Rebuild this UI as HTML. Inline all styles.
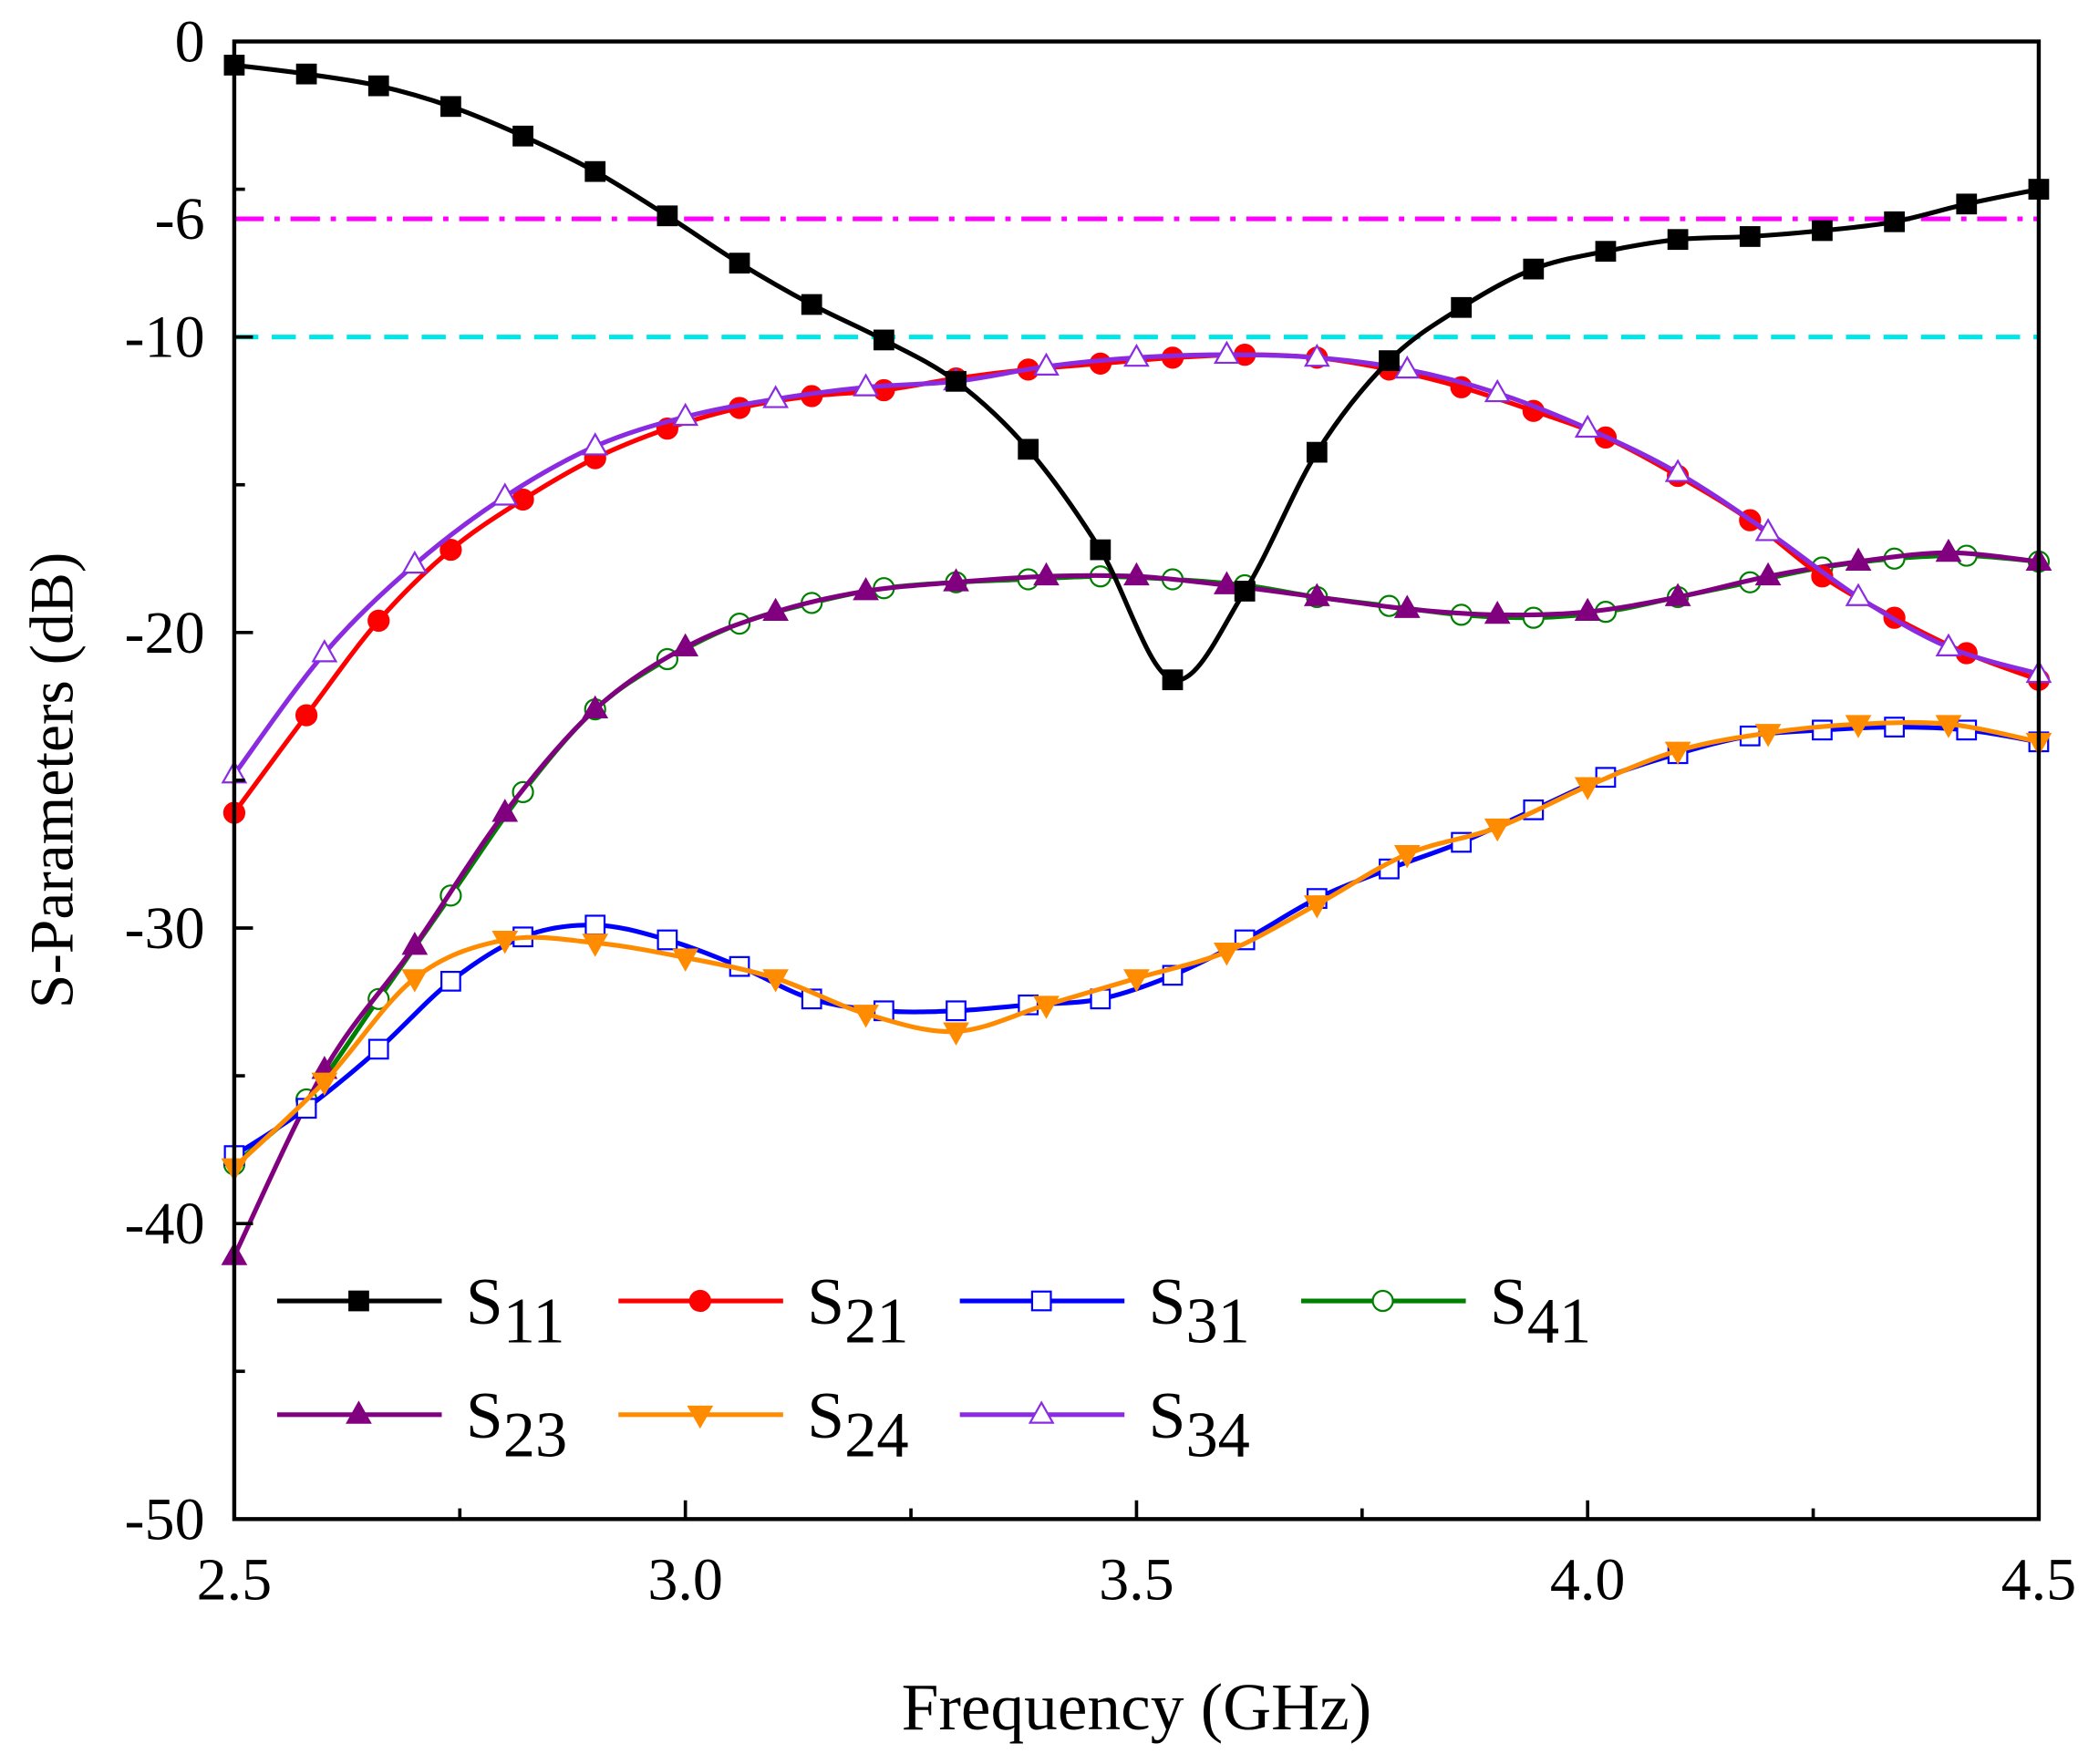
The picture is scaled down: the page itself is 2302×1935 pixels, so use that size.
<!DOCTYPE html>
<html><head><meta charset="utf-8"><style>
html,body{margin:0;padding:0;background:#fff;}
svg{display:block;font-family:"Liberation Serif",serif;}
</style></head><body>
<svg id="chart" width="2302" height="1935" viewBox="0 0 1568 1318" preserveAspectRatio="none" xmlns="http://www.w3.org/2000/svg">
<g id="grid"></g>
<g id="series"></g>
<rect x="175" y="31" width="1348" height="1104" fill="none" stroke="#000" stroke-width="3"/>
<g id="axes"></g>
<text transform="translate(54,583) rotate(-90)" text-anchor="middle" font-size="46">S-Parameters (dB)</text>
<text x="849" y="1292" text-anchor="middle" font-size="50">Frequency (GHz)</text>
<g id="legend"></g>
</svg>
<script>
const f8 = [2.5,2.58,2.66,2.74,2.82,2.9,2.98,3.06,3.14,3.22,3.3,3.38,3.46,3.54,3.62,3.7,3.78,3.86,3.94,4.02,4.1,4.18,4.26,4.34,4.42,4.5];
const f10 = [2.5,2.6,2.7,2.8,2.9,3.0,3.1,3.2,3.3,3.4,3.5,3.6,3.7,3.8,3.9,4.0,4.1,4.2,4.3,4.4,4.5];
const s11 = [-0.8,-1.1,-1.5,-2.2,-3.2,-4.4,-5.9,-7.5,-8.9,-10.1,-11.5,-13.8,-17.2,-21.6,-18.6,-13.9,-10.8,-9.0,-7.7,-7.1,-6.7,-6.6,-6.4,-6.1,-5.5,-5.0];
const s21 = [-26.1,-22.8,-19.6,-17.2,-15.5,-14.1,-13.1,-12.4,-12.0,-11.8,-11.4,-11.1,-10.9,-10.7,-10.6,-10.7,-11.1,-11.7,-12.5,-13.4,-14.7,-16.2,-18.1,-19.5,-20.7,-21.6];
const s31 = [-37.7,-36.1,-34.1,-31.8,-30.3,-29.9,-30.4,-31.3,-32.4,-32.8,-32.8,-32.6,-32.4,-31.6,-30.4,-29.0,-28.0,-27.1,-26.0,-24.9,-24.1,-23.5,-23.3,-23.2,-23.3,-23.7];
const s41 = [-38.0,-35.8,-32.4,-28.9,-25.4,-22.6,-20.9,-19.7,-19.0,-18.5,-18.3,-18.2,-18.1,-18.2,-18.4,-18.8,-19.1,-19.4,-19.5,-19.3,-18.8,-18.3,-17.8,-17.5,-17.4,-17.6];
const s23 = [-41.1,-34.8,-30.6,-26.1,-22.6,-20.5,-19.3,-18.6,-18.3,-18.1,-18.1,-18.4,-18.8,-19.2,-19.4,-19.3,-18.8,-18.1,-17.6,-17.3,-17.6];
const s24 = [-38.1,-35.2,-31.7,-30.4,-30.5,-31.0,-31.7,-32.9,-33.5,-32.6,-31.7,-30.8,-29.2,-27.5,-26.6,-25.2,-24.0,-23.4,-23.1,-23.1,-23.7];
const s34 = [-24.8,-20.7,-17.7,-15.4,-13.7,-12.7,-12.1,-11.7,-11.5,-11.0,-10.7,-10.6,-10.7,-11.1,-11.9,-13.1,-14.6,-16.6,-18.8,-20.5,-21.4];
const xTicks = [2.5,3.0,3.5,4.0,4.5];
const yTicks = [0,-6,-10,-20,-30,-40,-50];
const refLevels = [-6,-10];

const NS="http://www.w3.org/2000/svg";
const X0=175,X1=1523,Y0=31,Y1=1135;
const xs=f=>X0+(f-2.5)/2*(X1-X0);
const ys=v=>Y0+(-v)/50*(Y1-Y0);
function mk(tag,attrs,parent){const e=document.createElementNS(NS,tag);for(const k in attrs)e.setAttribute(k,attrs[k]);parent.appendChild(e);return e;}
const grid=document.getElementById('grid'),axes=document.getElementById('axes'),ser=document.getElementById('series'),leg=document.getElementById('legend');

const refStyle=[{c:'#ff00ff',d:'22 8 4 8',n:'minus-6db-reference-line'},{c:'#00e5e5',d:'18 10',n:'minus-10db-reference-line'}];
refLevels.forEach((v,i)=>{
  const l=mk('line',{x1:X0,x2:X1,y1:ys(v),y2:ys(v),stroke:refStyle[i].c,'stroke-width':3.5,'stroke-dasharray':refStyle[i].d},grid);
  
  
});

for(let v=0;v>=-50;v-=5){
  const t=mk('line',{x1:X0,x2:X0+(v%10===0?14:8),y1:ys(v),y2:ys(v),stroke:'#000','stroke-width':2.5},axes);
  
  
}
yTicks.forEach(v=>{
  const t=mk('text',{x:X0-22,y:ys(v)+15,'text-anchor':'end','font-size':45},axes);t.textContent=String(v);
  
  
});
for(let f=2.5;f<=4.501;f+=0.25){
  const maj=Math.abs((f*2)-Math.round(f*2))<1e-6;
  const t=mk('line',{x1:xs(f),x2:xs(f),y1:Y1,y2:Y1-(maj?14:8),stroke:'#000','stroke-width':2.5},axes);
  
  
}
xTicks.forEach(f=>{
  const t=mk('text',{x:xs(f),y:Y1+60,'text-anchor':'middle','font-size':45},axes);t.textContent=f.toFixed(1);
  
  
});

function smooth(pts){
  let d=`M${pts[0][0]},${pts[0][1]}`;
  for(let i=0;i<pts.length-1;i++){
    const p0=pts[Math.max(0,i-1)],p1=pts[i],p2=pts[i+1],p3=pts[Math.min(pts.length-1,i+2)];
    const c1=[p1[0]+(p2[0]-p0[0])/6,p1[1]+(p2[1]-p0[1])/6],c2=[p2[0]-(p3[0]-p1[0])/6,p2[1]-(p3[1]-p1[1])/6];
    d+=` C${c1[0]},${c1[1]} ${c2[0]},${c2[1]} ${p2[0]},${p2[1]}`;
  }
  return d;
}
function marker(type,color,x,y,parent){
  const r=7;let e;
  const fill=(type==='sqo'||type==='circo'||type==='trio')?'#fff':color;
  if(type==='sq'||type==='sqo')e=mk('rect',{x:x-r,y:y-r,width:2*r,height:2*r,fill:fill,stroke:color,'stroke-width':1.5},parent);
  else if(type==='circ'||type==='circo')e=mk('circle',{cx:x,cy:y,r:r+0.5,fill:fill,stroke:color,'stroke-width':1.5},parent);
  else if(type==='tri'||type==='trio')e=mk('polygon',{points:`${x},${y-9} ${x-8.5},${y+6} ${x+8.5},${y+6}`,fill:fill,stroke:color,'stroke-width':1.5},parent);
  else e=mk('polygon',{points:`${x},${y+9} ${x-8.5},${y-6} ${x+8.5},${y-6}`,fill:fill,stroke:color,'stroke-width':1.5},parent);
  return e;
}
const S=[
 {n:'s41',sub:'41',f:f8,v:s41,c:'#008000',m:'circo',lx:972,ly:972},
 {n:'s23',sub:'23',f:f10,v:s23,c:'#800080',m:'tri',lx:207,ly:1057},
 {n:'s31',sub:'31',f:f8,v:s31,c:'#0000ff',m:'sqo',lx:717,ly:972},
 {n:'s24',sub:'24',f:f10,v:s24,c:'#ff8c00',m:'tridn',lx:462,ly:1057},
 {n:'s21',sub:'21',f:f8,v:s21,c:'#ff0000',m:'circ',lx:462,ly:972},
 {n:'s34',sub:'34',f:f10,v:s34,c:'#8a2be2',m:'trio',lx:717,ly:1057},
 {n:'s11',sub:'11',f:f8,v:s11,c:'#000000',m:'sq',lx:207,ly:972},
];
S.forEach(s=>{
  const g=mk('g',{},ser);
  
  
  const pts=s.f.map((f,i)=>[xs(f),ys(s.v[i])]);
  mk('path',{d:smooth(pts),fill:'none',stroke:s.c,'stroke-width':3.5},g);
  pts.forEach(p=>{
    const m=marker(s.m,s.c,p[0],p[1],g);
    
    
  });
  const lg=mk('g',{},leg);
  
  
  mk('line',{x1:s.lx,x2:s.lx+123,y1:s.ly,y2:s.ly,stroke:s.c,'stroke-width':3.5},lg);
  marker(s.m,s.c,s.lx+61,s.ly,lg);
  const t=mk('text',{x:s.lx+141,y:s.ly+17,'font-size':50},lg);
  t.textContent='S';
  const ts=mk('tspan',{dy:14,'font-size':48},t);ts.textContent=s.sub;
});
</script>
</body></html>
